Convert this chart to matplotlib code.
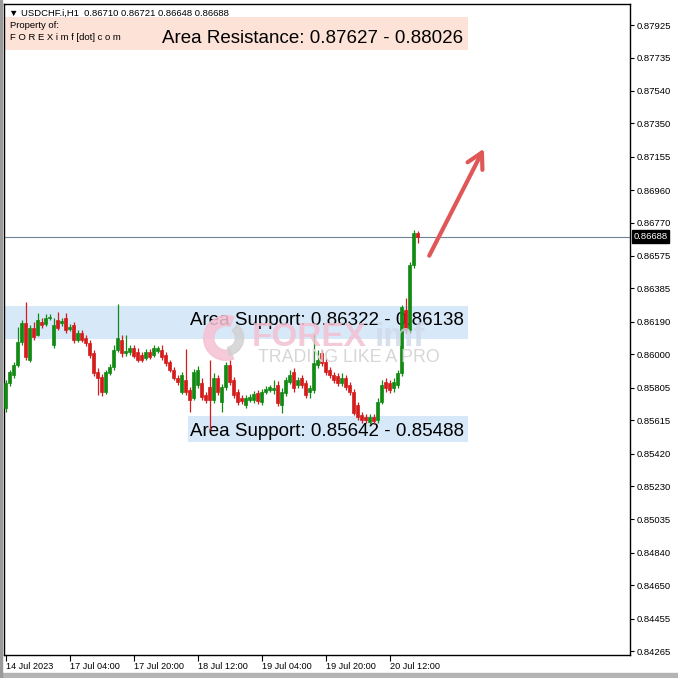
import matplotlib
matplotlib.use('Agg')
import matplotlib.pyplot as plt
from matplotlib.patches import Rectangle, Wedge

# H1 candles, USDCHF 14 Jul 2023 12:00 -> 20 Jul 2023 19:00
opens = [0.85686, 0.85832, 0.85879, 0.85937, 0.86072, 0.86182, 0.85966, 0.86153, 0.86112, 0.86188,
         0.86177, 0.86212, 0.86054, 0.86200, 0.86182, 0.86212, 0.86147, 0.86171, 0.86083, 0.86124,
         0.86095, 0.86066, 0.86007, 0.85896, 0.85867, 0.85779, 0.85890, 0.85925, 0.86025, 0.86083,
         0.86007, 0.86013, 0.86036, 0.86013, 0.85995, 0.85978, 0.86013, 0.85995, 0.86019, 0.86025,
         0.85995, 0.85955, 0.85908, 0.85861, 0.85779, 0.85849, 0.85791, 0.85744, 0.85820, 0.85832,
         0.85762, 0.85809, 0.85732, 0.85861, 0.85721, 0.85809, 0.85937, 0.85849, 0.85779, 0.85744,
         0.85703, 0.85732, 0.85732, 0.85773, 0.85721, 0.85779, 0.85791, 0.85791, 0.85820, 0.85703,
         0.85773, 0.85838, 0.85896, 0.85820, 0.85861, 0.85832, 0.85779, 0.85791, 0.85937, 0.86007,
         0.85955, 0.85908, 0.85879, 0.85873, 0.85832, 0.85861, 0.85820, 0.85779, 0.85703, 0.85645,
         0.85633, 0.85604, 0.85633, 0.85615, 0.85721, 0.85838, 0.85832, 0.85803, 0.85820, 0.85890,
         0.86259, 0.86142, 0.86522, 0.86710]
highs = [0.85849, 0.85908, 0.85955, 0.86159, 0.86200, 0.86305, 0.86171, 0.86188, 0.86241, 0.86212,
         0.86235, 0.86235, 0.86212, 0.86247, 0.86212, 0.86241, 0.86177, 0.86188, 0.86142, 0.86142,
         0.86112, 0.86083, 0.86025, 0.85920, 0.85885, 0.85908, 0.85943, 0.86054, 0.86294, 0.86112,
         0.86112, 0.86054, 0.86054, 0.86036, 0.86013, 0.86031, 0.86031, 0.86054, 0.86048, 0.86054,
         0.86013, 0.85966, 0.85925, 0.85879, 0.85896, 0.86031, 0.85809, 0.85914, 0.85931, 0.85861,
         0.85779, 0.85966, 0.85890, 0.85879, 0.85826, 0.85955, 0.85966, 0.85867, 0.85797, 0.85762,
         0.85762, 0.85768, 0.85785, 0.85791, 0.85797, 0.85814, 0.85820, 0.85849, 0.85844, 0.85803,
         0.85867, 0.85908, 0.85920, 0.85867, 0.85879, 0.85849, 0.85820, 0.86118, 0.86025, 0.86025,
         0.85978, 0.85925, 0.85896, 0.85890, 0.85890, 0.85879, 0.85838, 0.85797, 0.85721, 0.85662,
         0.85651, 0.85651, 0.85651, 0.85744, 0.85849, 0.85861, 0.85849, 0.85861, 0.85908, 0.86288,
         0.86329, 0.86539, 0.86727, 0.86721]
lows = [0.85662, 0.85814, 0.85861, 0.85925, 0.86054, 0.85966, 0.85955, 0.86083, 0.86106, 0.86153,
        0.86165, 0.86200, 0.86036, 0.86142, 0.86165, 0.86124, 0.86136, 0.86066, 0.86072, 0.86072,
        0.86048, 0.85978, 0.85873, 0.85762, 0.85756, 0.85768, 0.85879, 0.85908, 0.86013, 0.85984,
        0.85990, 0.85995, 0.85978, 0.85955, 0.85955, 0.85966, 0.85972, 0.85984, 0.86007, 0.85966,
        0.85931, 0.85896, 0.85849, 0.85820, 0.85768, 0.85762, 0.85662, 0.85732, 0.85803, 0.85732,
        0.85715, 0.85557, 0.85715, 0.85762, 0.85662, 0.85791, 0.85820, 0.85744, 0.85703, 0.85709,
        0.85686, 0.85721, 0.85715, 0.85709, 0.85703, 0.85768, 0.85779, 0.85768, 0.85697, 0.85656,
        0.85756, 0.85826, 0.85779, 0.85803, 0.85803, 0.85744, 0.85744, 0.85773, 0.85920, 0.85931,
        0.85879, 0.85861, 0.85832, 0.85814, 0.85814, 0.85791, 0.85762, 0.85645, 0.85615, 0.85598,
        0.85598, 0.85592, 0.85592, 0.85598, 0.85709, 0.85779, 0.85773, 0.85779, 0.85803, 0.85873,
        0.86124, 0.86124, 0.86505, 0.86648]
closes = [0.85832, 0.85896, 0.85937, 0.86072, 0.86182, 0.85984, 0.86153, 0.86101, 0.86200, 0.86171,
          0.86212, 0.86218, 0.86171, 0.86153, 0.86194, 0.86142, 0.86159, 0.86083, 0.86124, 0.86083,
          0.86066, 0.85995, 0.85890, 0.85861, 0.85779, 0.85896, 0.85925, 0.86025, 0.86095, 0.86007,
          0.86019, 0.86036, 0.85990, 0.85966, 0.85966, 0.86013, 0.85984, 0.86036, 0.86036, 0.85984,
          0.85949, 0.85908, 0.85861, 0.85838, 0.85879, 0.85779, 0.85732, 0.85896, 0.85908, 0.85750,
          0.85732, 0.85732, 0.85861, 0.85779, 0.85809, 0.85937, 0.85838, 0.85762, 0.85721, 0.85727,
          0.85744, 0.85750, 0.85768, 0.85727, 0.85779, 0.85797, 0.85809, 0.85803, 0.85715, 0.85779,
          0.85849, 0.85879, 0.85803, 0.85849, 0.85820, 0.85762, 0.85803, 0.85949, 0.85966, 0.85949,
          0.85896, 0.85879, 0.85849, 0.85832, 0.85861, 0.85809, 0.85779, 0.85656, 0.85633, 0.85615,
          0.85615, 0.85633, 0.85610, 0.85721, 0.85820, 0.85803, 0.85791, 0.85838, 0.85890, 0.86276,
          0.86142, 0.86522, 0.86709, 0.86688]

# right price scale
price_ticks = [0.87925, 0.87735, 0.87540, 0.87350, 0.87155, 0.86960, 0.86770, 0.86575, 0.86385, 0.86190,
               0.86000, 0.85805, 0.85615, 0.85420, 0.85230, 0.85035, 0.84840, 0.84650, 0.84455, 0.84265]
# time scale (bar index of each label)
time_ticks = [0, 16, 32, 48, 64, 80, 96]
time_labels = ['14 Jul 2023', '17 Jul 04:00', '17 Jul 20:00', '18 Jul 12:00',
               '19 Jul 04:00', '19 Jul 20:00', '20 Jul 12:00']

# zones drawn on the chart
zone_labels = ['Area Resistance: 0.87627 - 0.88026', 'Area Support: 0.86322 - 0.86138',
               'Area Support: 0.85642 - 0.85488']
zone_low = [0.87779, 0.86089, 0.85488]
zone_high = [0.87972, 0.86282, 0.85642]
zone_start = [-0.4, -0.4, 45.6]
zone_end = [115.6, 115.6, 115.6]
zone_colors = ['#fde2d7', '#d7e8f8', '#d7e8f8']
zone_text_x = [39.1, 46.1, 46.1]
zone_text_y = [0.87849, 0.86200, 0.85551]

arrow_start = (105.6, 0.86562)
arrow_end = (119.9, 0.87217)

UP = '#138a13'
DOWN = '#d41c1c'
FONT = ['Liberation Sans', 'DejaVu Sans']

fig = plt.figure(figsize=(6.78, 6.78), dpi=100)
ax = fig.add_axes([4 / 678, 23 / 678, 626 / 678, 651 / 678])
ax.set_xlim(-0.375, 156.1)
ax.set_ylim(0.84242, 0.88048)

# zones + labels
for i in range(len(zone_labels)):
    ax.add_patch(Rectangle((zone_start[i], zone_low[i]), zone_end[i] - zone_start[i],
                           zone_high[i] - zone_low[i], color=zone_colors[i], lw=0, zorder=0))
    ax.text(zone_text_x[i], zone_text_y[i], zone_labels[i], fontsize=13.5, family=FONT,
            va='center', ha='left', zorder=3)

# watermark
logo_c = (226 / 678, 1 - 338 / 678)
fig.patches.append(Wedge(logo_c, 0.033, 70, 290, width=0.015,
                         transform=fig.transFigure, color='#f5c1d3', alpha=0.85, zorder=1))
fig.patches.append(Wedge(logo_c, 0.026, 280, 50, width=0.012,
                         transform=fig.transFigure, color='#d0d0d0', alpha=0.8, zorder=1))
fig.text(252 / 678, 1 - 338 / 678, 'FOREX', fontsize=24, weight='bold', family=FONT,
         color='#f3c0d2', alpha=0.85, va='center', zorder=1)
fig.text(375 / 678, 1 - 338 / 678, 'imf', fontsize=24, weight='bold', family=FONT,
         color='#cfd9e8', alpha=0.8, va='center', zorder=1)
fig.text(258 / 678, 1 - 357 / 678, 'TRADING LIKE A PRO', fontsize=12.8, family=FONT,
         color='#d6d6d6', va='center', zorder=1)

# candles
for i in range(len(opens)):
    col = UP if closes[i] >= opens[i] else DOWN
    ax.vlines(i, lows[i], highs[i], color=col, lw=0.9, zorder=4)
    lo = min(opens[i], closes[i])
    h = max(abs(closes[i] - opens[i]), 0.00003)
    ax.bar(i, h, bottom=lo, width=0.7, color=col, edgecolor=col, lw=0.5, zorder=5)

# last price line + marker
last = closes[-1]
ax.axhline(last, color='#6f8194', lw=0.8, zorder=2)
ax.annotate(f'{last:.5f}', xy=(1, last), xycoords=('axes fraction', 'data'),
            xytext=(2.5, 0), textcoords='offset points', va='center', ha='left',
            color='white', fontsize=6.8, family=FONT, annotation_clip=False,
            bbox=dict(boxstyle='square,pad=0.2', fc='black', ec='black'))

# arrow
ax.annotate('', xy=arrow_end, xytext=arrow_start,
            arrowprops=dict(arrowstyle='->,head_length=0.55,head_width=0.3', color='#e05757',
                            lw=3, mutation_scale=20, capstyle='round'), zorder=6)

# axes style
ax.yaxis.tick_right()
ax.set_yticks(price_ticks)
ax.set_yticklabels([f'{p:.5f}' for p in price_ticks], fontsize=6.8, family=FONT)
ax.tick_params(axis='y', direction='out', length=3, width=0.8, pad=2)
ax.set_xticks(time_ticks)
ax.set_xticklabels(time_labels, fontsize=6.6, family=FONT)
for lab in ax.get_xticklabels():
    lab.set_ha('left')
ax.tick_params(axis='x', direction='out', length=4, width=0.8, pad=1)
for s in ax.spines.values():
    s.set_linewidth(1)

# header
fig.text(9 / 678, 1 - 13 / 678, '\u25bc USDCHF.i,H1  0.86710 0.86721 0.86648 0.86688',
         fontsize=6.8, family=FONT, va='center')
fig.text(10 / 678, 1 - 26 / 678, 'Property of:', fontsize=6.8, family=FONT, va='center')
fig.text(10 / 678, 1 - 38 / 678, 'F O R E X i m f [dot] c o m', fontsize=6.8, family=FONT, va='center')

# screenshot border
fig.patches.append(Rectangle((0, 0), 1, 5 / 678, transform=fig.transFigure, color='#b4b4b4', zorder=0))
fig.patches.append(Rectangle((0, 0), 2 / 678, 1, transform=fig.transFigure, color='#9a9a9a', zorder=0))

fig.savefig('out.png', dpi=100)
